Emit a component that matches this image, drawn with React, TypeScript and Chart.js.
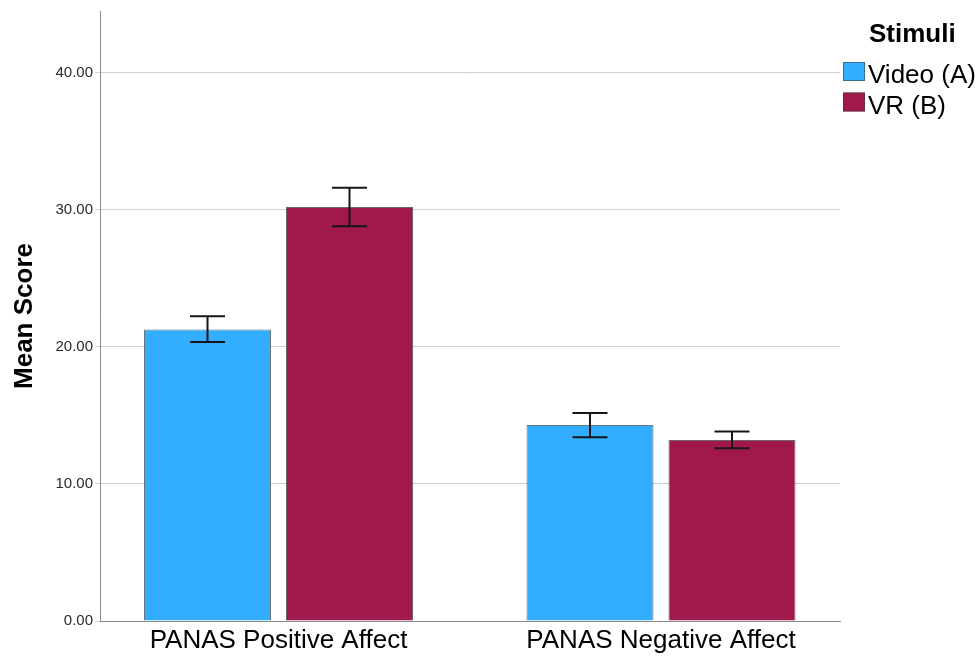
import React, { useEffect, useRef } from 'react';
import { Chart, registerables } from 'chart.js';

Chart.register(...registerables);

// ---- data ----
const categories = ['PANAS Positive Affect', 'PANAS Negative Affect'];
const seriesNames = ['Video (A)', 'VR (B)'];
const videoMeans = [21.27, 14.3];
const videoLow = [20.35, 13.4];
const videoHigh = [22.24, 15.18];
const vrMeans = [30.2, 13.21];
const vrLow = [28.8, 12.6];
const vrHigh = [31.61, 13.82];
const yTicks = [0, 10, 20, 30, 40];
const yTitle = 'Mean Score';
const legendTitle = 'Stimuli';

const FONT = 'Arial, "Liberation Sans", Helvetica, sans-serif';
const seriesColors = ['#33adff', '#a0184c'];

const errorBarPlugin = {
  id: 'errorBars',
  afterDatasetsDraw(chart: any) {
    const { ctx } = chart;
    const yScale = chart.scales.y;
    chart.data.datasets.forEach((ds: any, i: number) => {
      const meta = chart.getDatasetMeta(i);
      if (meta.hidden) return;
      meta.data.forEach((bar: any, j: number) => {
        const x = bar.x;
        const yHi = yScale.getPixelForValue(ds.errHigh[j]);
        const yLo = yScale.getPixelForValue(ds.errLow[j]);
        const half = 17.5;
        ctx.save();
        ctx.strokeStyle = '#161616';
        ctx.lineWidth = 2;
        ctx.beginPath();
        ctx.moveTo(x, yHi);
        ctx.lineTo(x, yLo);
        ctx.moveTo(x - half, yHi);
        ctx.lineTo(x + half, yHi);
        ctx.moveTo(x - half, yLo);
        ctx.lineTo(x + half, yLo);
        ctx.stroke();
        ctx.restore();
      });
    });
  },
};

const sideLegendPlugin = {
  id: 'sideLegend',
  afterDraw(chart: any) {
    const { ctx, chartArea } = chart;
    const left = chartArea.right + 3;
    ctx.save();
    ctx.textAlign = 'left';
    ctx.textBaseline = 'alphabetic';
    ctx.fillStyle = '#000';
    ctx.font = `bold 26px ${FONT}`;
    ctx.fillText(legendTitle, left + 26, 41.5);
    chart.data.datasets.forEach((ds: any, i: number) => {
      const top = 62 + i * 30.5;
      ctx.fillStyle = ds.backgroundColor;
      ctx.fillRect(left, top, 22, 19);
      ctx.strokeStyle = 'rgba(60,60,60,0.55)';
      ctx.lineWidth = 1;
      ctx.strokeRect(left + 0.5, top + 0.5, 21, 18);
      ctx.fillStyle = '#000';
      ctx.font = `26px ${FONT}`;
      ctx.fillText(ds.label, left + 25, top + 21);
    });
    ctx.restore();
  },
};

export default function App() {
  const canvasRef = useRef<HTMLCanvasElement | null>(null);

  useEffect(() => {
    if (!canvasRef.current) return;
    const makePoints = (vals: number[]) => vals.map((v, i) => ({ x: i, y: v }));
    const chart = new Chart(canvasRef.current, {
      type: 'bar',
      data: {
        datasets: [
          {
            label: seriesNames[0],
            data: makePoints(videoMeans),
            backgroundColor: seriesColors[0],
            borderColor: 'rgba(45,60,75,0.7)',
            borderWidth: 1,
            errLow: videoLow,
            errHigh: videoHigh,
          } as any,
          {
            label: seriesNames[1],
            data: makePoints(vrMeans),
            backgroundColor: seriesColors[1],
            borderColor: 'rgba(50,35,40,0.7)',
            borderWidth: 1,
            errLow: vrLow,
            errHigh: vrHigh,
          } as any,
        ],
      },
      options: {
        animation: false,
        responsive: true,
        maintainAspectRatio: false,
        layout: { padding: { top: 10, right: 138, bottom: 0, left: 0 } },
        datasets: { bar: { categoryPercentage: 0.7425, barPercentage: 0.8944 } },
        plugins: {
          legend: { display: false },
          tooltip: { enabled: false },
        },
        scales: {
          x: {
            type: 'linear',
            offset: false,
            min: -0.4667,
            max: 1.468,
            afterBuildTicks: (s: any) => {
              s.ticks = categories.map((_, i) => ({ value: i }));
            },
            afterFit: (s: any) => {
              s.height = 37;
            },
            grid: { display: false, drawTicks: false, offset: false },
            border: { display: true, color: '#8c8c8c', width: 1 },
            ticks: {
              callback: (v: any) => categories[v as number] ?? '',
              font: { family: FONT, size: 26 },
              color: '#000',
              padding: 4,
              maxRotation: 0,
              autoSkip: false,
            },
          },
          y: {
            min: 0,
            max: 44.5,
            afterBuildTicks: (s: any) => {
              s.ticks = yTicks.map((v) => ({ value: v }));
            },
            afterFit: (s: any) => {
              s.width = 100;
            },
            grid: { color: '#cfcfcf', lineWidth: 1, tickLength: 5, drawTicks: true },
            border: { display: true, color: '#8c8c8c', width: 1 },
            ticks: {
              callback: (v: any) => Number(v).toFixed(2),
              font: { family: FONT, size: 15 },
              color: '#2a2a2a',
              padding: 2,
            },
            title: {
              display: true,
              text: yTitle,
              font: { family: FONT, size: 26, weight: 'bold' },
              color: '#000',
              padding: { top: 9, bottom: 0 },
            },
          },
        },
      } as any,
      plugins: [errorBarPlugin, sideLegendPlugin],
    });
    return () => chart.destroy();
  }, []);

  return (
    <div style={{ position: 'absolute', left: 0, top: 0, width: 978, height: 658, background: '#fff' }}>
      <canvas ref={canvasRef} />
    </div>
  );
}
